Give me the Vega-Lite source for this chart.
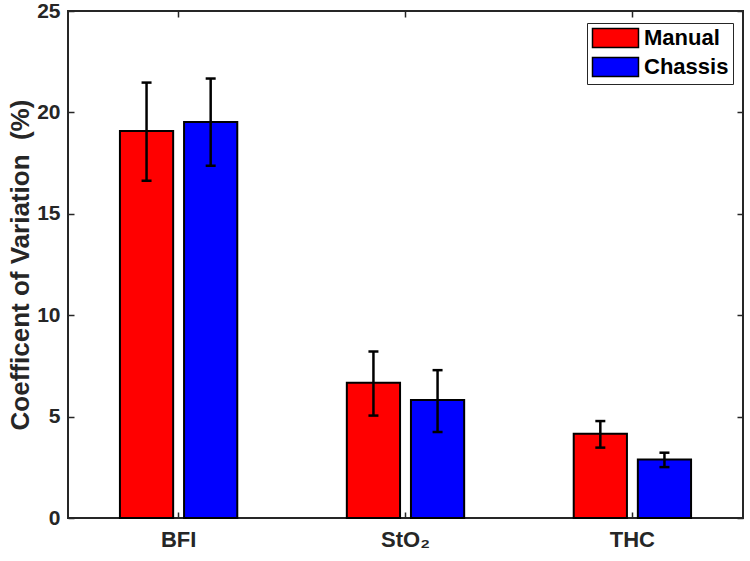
{
  "$schema": "https://vega.github.io/schema/vega-lite/v6.json",
  "width": 675,
  "height": 507,
  "autosize": "none",
  "padding": {"left": 68, "top": 11, "right": 7, "bottom": 43},
  "background": "white",
  "config": {
    "view": {"stroke": "#262626", "strokeWidth": 2},
    "font": "Liberation Sans",
    "axis": {
      "labelFont": "Liberation Sans",
      "labelFontWeight": "bold",
      "labelColor": "#262626",
      "titleFont": "Liberation Sans",
      "titleFontWeight": "bold",
      "titleColor": "#262626",
      "domain": false,
      "grid": false,
      "tickColor": "#262626",
      "tickWidth": 1.5
    }
  },
  "data": {
    "values": [
      {"metric": "BFI", "device": "Manual", "cv": 19.08, "lo": 16.63, "hi": 21.47},
      {"metric": "BFI", "device": "Chassis", "cv": 19.53, "lo": 17.37, "hi": 21.67},
      {"metric": "StO₂", "device": "Manual", "cv": 6.67, "lo": 5.05, "hi": 8.21},
      {"metric": "StO₂", "device": "Chassis", "cv": 5.82, "lo": 4.24, "hi": 7.29},
      {"metric": "THC", "device": "Manual", "cv": 4.15, "lo": 3.47, "hi": 4.78},
      {"metric": "THC", "device": "Chassis", "cv": 2.88, "lo": 2.51, "hi": 3.22}
    ]
  },
  "resolve": {"axis": {"x": "independent", "y": "independent"}},
  "layer": [
    {
      "mark": {"type": "bar", "stroke": "black", "strokeWidth": 2},
      "encoding": {
        "x": {
          "field": "metric", "type": "nominal", "sort": ["BFI", "StO₂", "THC"],
          "scale": {"paddingInner": 0.025, "paddingOuter": 0},
          "axis": {"orient": "bottom", "title": null, "labelAngle": 0, "labelFontSize": 22, "tickSize": -6, "labelPadding": 17}
        },
        "xOffset": {
          "field": "device", "type": "nominal", "sort": ["Manual", "Chassis"],
          "scale": {"paddingInner": 0.17, "paddingOuter": 0.81}
        },
        "y": {
          "field": "cv", "type": "quantitative",
          "scale": {"domain": [0, 25], "nice": false, "zero": true},
          "axis": {"orient": "left", "values": [0, 5, 10, 15, 20, 25], "title": "Coefficent of Variation \u00a0(%)", "titleFontSize": 26, "labelFontSize": 21, "tickSize": -6, "labelPadding": 14, "titlePadding": 3}
        },
        "fill": {
          "field": "device", "type": "nominal",
          "scale": {"domain": ["Manual", "Chassis"], "range": ["#ff0000", "#0000ff"]},
          "legend": {
            "orient": "none", "legendX": 519, "legendY": 12, "title": null,
            "symbolType": "M-1,-1H3.84V1H-1Z", "symbolSize": 361,
            "symbolStrokeColor": "black", "symbolStrokeWidth": 1.5,
            "labelFontSize": 22, "labelFont": "Liberation Sans", "labelFontWeight": "bold", "labelColor": "black",
            "strokeColor": "#262626", "fillColor": "white", "padding": 4, "rowPadding": 3, "labelOffset": 31
          }
        }
      }
    },
    {
      "mark": {"type": "rule", "strokeWidth": 2.5, "color": "black"},
      "encoding": {
        "x": {
          "field": "metric", "type": "nominal", "sort": ["BFI", "StO₂", "THC"],
          "axis": {"orient": "top", "title": null, "labels": false, "tickSize": -6}
        },
        "xOffset": {"field": "device", "type": "nominal", "sort": ["Manual", "Chassis"]},
        "y": {
          "field": "lo", "type": "quantitative",
          "axis": {"orient": "right", "title": null, "labels": false, "values": [0, 5, 10, 15, 20, 25], "tickSize": -6}
        },
        "y2": {"field": "hi"}
      }
    },
    {
      "mark": {"type": "tick", "thickness": 2.5, "size": 10, "color": "black", "opacity": 1},
      "encoding": {
        "x": {"field": "metric", "type": "nominal", "sort": ["BFI", "StO₂", "THC"], "axis": null},
        "xOffset": {"field": "device", "type": "nominal", "sort": ["Manual", "Chassis"]},
        "y": {"field": "lo", "type": "quantitative", "axis": null}
      }
    },
    {
      "mark": {"type": "tick", "thickness": 2.5, "size": 10, "color": "black", "opacity": 1},
      "encoding": {
        "x": {"field": "metric", "type": "nominal", "sort": ["BFI", "StO₂", "THC"], "axis": null},
        "xOffset": {"field": "device", "type": "nominal", "sort": ["Manual", "Chassis"]},
        "y": {"field": "hi", "type": "quantitative", "axis": null}
      }
    }
  ]
}
